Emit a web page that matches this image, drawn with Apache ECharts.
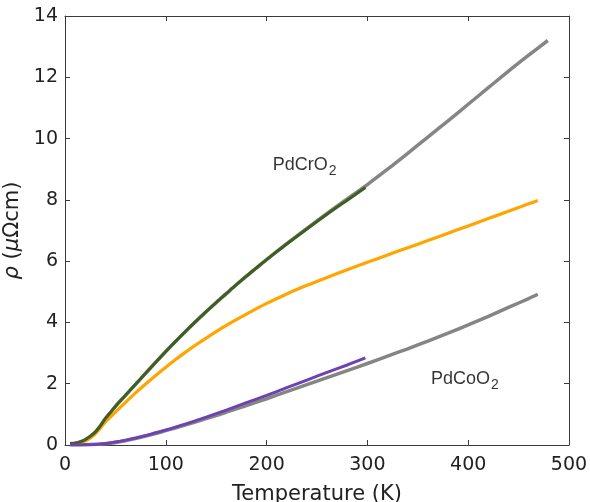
<!DOCTYPE html>
<html>
<head>
<meta charset="utf-8">
<script src="https://cdn.jsdelivr.net/npm/echarts@6/dist/echarts.min.js"></script>
<style>html,body{margin:0;padding:0;background:#fff}#c{width:590px;height:502px}</style>
</head>
<body>
<div id="c"></div>
<script>
// Temperature (K) and resistivity (μΩcm) values
var crFitT = [5,10,15,20,25,30,35,40,45,50,60,70,80,90,100,110,120,130,140,150,160,170,180,190,200,220,240,260,280,300,320,340,360,380,400,420,440,460,479];
var crFitR = [0.05,0.06,0.1,0.17,0.28,0.42,0.62,0.86,1.06,1.26,1.62,1.98,2.34,2.7,3.05,3.39,3.72,4.04,4.35,4.65,4.94,5.23,5.51,5.78,6.05,6.57,7.07,7.56,8.03,8.5,9.0,9.52,10.05,10.58,11.12,11.66,12.2,12.72,13.2];

var crDataT = [5,10,15,20,25,30,35,40,45,50,60,70,80,90,100,110,120,130,140,150,160,170,180,190,200,220,240,260,280,298];
var crDataR = [0.05,0.06,0.1,0.17,0.28,0.42,0.62,0.86,1.06,1.26,1.62,1.98,2.34,2.7,3.05,3.39,3.72,4.04,4.35,4.65,4.94,5.23,5.51,5.78,6.05,6.56,7.05,7.53,7.99,8.4];

var orangeT = [5,10,15,20,25,30,35,40,50,60,70,80,90,100,110,120,130,140,150,160,170,180,190,200,220,240,260,280,300,320,340,360,380,400,420,440,460,469];
var orangeR = [0.04,0.05,0.08,0.13,0.22,0.36,0.55,0.75,1.07,1.39,1.7,1.99,2.27,2.54,2.8,3.04,3.27,3.49,3.7,3.9,4.09,4.27,4.45,4.62,4.93,5.21,5.47,5.72,5.96,6.2,6.44,6.67,6.91,7.15,7.39,7.63,7.87,7.98];

var coDataT = [5,20,30,40,50,60,70,80,90,100,120,140,160,180,200,220,240,260,280,298];
var coDataR = [0.01,0.01,0.02,0.05,0.1,0.16,0.23,0.31,0.4,0.49,0.69,0.91,1.14,1.38,1.62,1.87,2.12,2.37,2.61,2.84];

var coFitT = [5,20,40,60,80,100,120,140,160,180,200,220,240,260,280,300,320,340,360,380,400,420,440,460,469];
var coFitR = [0.0,0.01,0.04,0.14,0.29,0.47,0.66,0.86,1.07,1.29,1.51,1.74,1.97,2.2,2.43,2.66,2.9,3.14,3.39,3.65,3.92,4.2,4.49,4.78,4.92];

var xTicks = [0,100,200,300,400,500];
var yTicks = [0,2,4,6,8,10,12,14];

var labels = [
  {name: 'PdCrO', sub: '2', T: 206, R: 9.14},
  {name: 'PdCoO', sub: '2', T: 363, R: 2.16}
];

function zip(a, b) { return a.map(function (v, i) { return [v, b[i]]; }); }

var chart = echarts.init(document.getElementById('c'));
var axisCol = '#3a3a3a';
var tickFont = {fontFamily: 'DejaVu Sans', fontSize: 19, color: '#222'};
var axisLine = {show: true, onZero: false, lineStyle: {color: axisCol, width: 1}};
var axisTick = {show: true, inside: true, length: 5, lineStyle: {color: axisCol}};

function lineSeries(T, R, color, width) {
  return {type: 'line', data: zip(T, R), showSymbol: false, smooth: 0.3,
    lineStyle: {color: color, width: width}, silent: true, animation: false};
}

var option = {
  animation: false,
  grid: {left: 65, right: 21, top: 16, bottom: 57, containLabel: false, outerBoundsMode: 'none'},
  xAxis: [
    {type: 'value', min: 0, max: 500, interval: 100, position: 'bottom',
     name: 'Temperature (K)', nameLocation: 'middle', nameGap: 39,
     nameTextStyle: {fontFamily: 'DejaVu Sans', fontSize: 21, color: '#222'},
     axisLine: axisLine, axisTick: axisTick,
     axisLabel: Object.assign({margin: 11, formatter: function (v) { return xTicks.indexOf(v) >= 0 ? String(v) : ''; }}, tickFont),
     splitLine: {show: false}},
    {type: 'value', min: 0, max: 500, interval: 100, position: 'top',
     axisLine: axisLine, axisTick: axisTick,
     axisLabel: {show: false}, splitLine: {show: false}}
  ],
  yAxis: [
    {type: 'value', min: 0, max: 14, interval: 2, position: 'left',
     name: '{i|ρ} ({i|μ}Ωcm)', nameLocation: 'middle', nameGap: 7, nameRotate: 90,
     nameTextStyle: {fontFamily: 'DejaVu Sans', fontSize: 21, color: '#222',
       rich: {i: {fontFamily: 'DejaVu Sans', fontStyle: 'italic', fontSize: 21, color: '#222'}}},
     axisLine: axisLine, axisTick: axisTick,
     axisLabel: Object.assign({margin: 7, formatter: function (v) { return yTicks.indexOf(v) >= 0 ? String(v) : ''; }}, tickFont),
     splitLine: {show: false}},
    {type: 'value', min: 0, max: 14, interval: 2, position: 'right',
     axisLine: axisLine, axisTick: axisTick,
     axisLabel: {show: false}, splitLine: {show: false}}
  ],
  series: [
    lineSeries(crFitT, crFitR, '#858585', 3.5),
    lineSeries(coFitT, coFitR, '#858585', 3.5),
    lineSeries(orangeT, orangeR, '#FFA500', 3.2),
    lineSeries(crDataT, crDataR, '#3f5f22', 3),
    lineSeries(coDataT, coDataR, '#6e42b0', 3),
    {type: 'scatter', symbolSize: 0, silent: true,
     data: labels.map(function (l) { return {value: [l.T, l.R], name: l.name, sub: l.sub}; }),
     label: {show: true, position: 'right', distance: 0,
       formatter: function (p) { return '{a|' + p.data.name + '}{s|' + p.data.sub + '}'; },
       rich: {
         a: {fontFamily: 'Liberation Sans', fontSize: 18, color: '#000'},
         s: {fontFamily: 'Liberation Sans', fontSize: 14, color: '#000', verticalAlign: 'bottom', padding: [12, 0, 0, 1]}
       }}}
  ]
};
chart.setOption(option);
</script>
</body>
</html>
